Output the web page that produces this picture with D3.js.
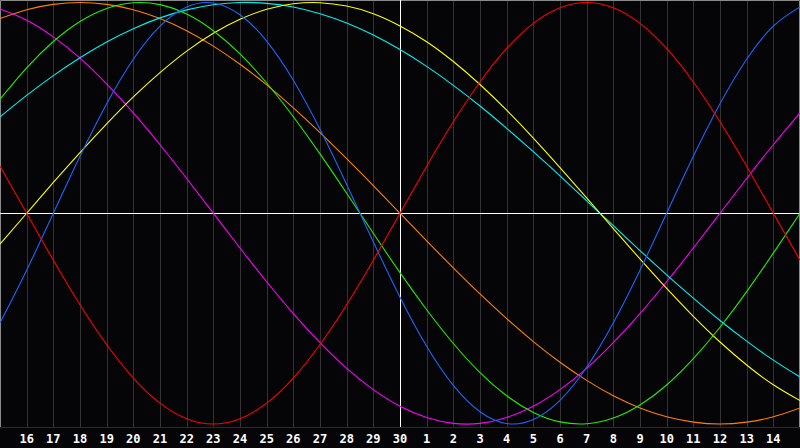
<!DOCTYPE html>
<html>
<head>
<meta charset="utf-8">
<script src="https://cdn.jsdelivr.net/npm/d3@7"></script>
<style>
  html, body { margin: 0; padding: 0; background: #000; }
  svg { display: block; }
</style>
</head>
<body>
<div id="chart"></div>
<script>
// day labels, one per column (first and last sit on the frame edges)
var days = [15, 16, 17, 18, 19, 20, 21, 22, 23, 24, 25, 26, 27, 28, 29, 30,
            1, 2, 3, 4, 5, 6, 7, 8, 9, 10, 11, 12, 13, 14, 15];
var todayIndex = 15; // the "30" column

// values, -1..1, one per day
var physical = [-0.520, -0.270, 0, 0.270, 0.520, 0.731, 0.888, 0.979, 0.998, 0.942, 0.817, 0.631, 0.398, 0.136, -0.136,
                -0.398, -0.631, -0.817, -0.942, -0.998, -0.979, -0.888, -0.731, -0.520, -0.270, 0, 0.270, 0.520, 0.731, 0.888, 0.979];
var emotional = [0.223, 0, -0.223, -0.434, -0.623, -0.782, -0.901, -0.975, -1.000, -0.975, -0.901, -0.782, -0.623, -0.434, -0.223,
                 0, 0.223, 0.434, 0.623, 0.782, 0.901, 0.975, 1.000, 0.975, 0.901, 0.782, 0.623, 0.434, 0.223, 0, -0.223];
var intellectual = [0.541, 0.690, 0.815, 0.910, 0.972, 0.999, 0.990, 0.945, 0.866, 0.756, 0.618, 0.458, 0.282, 0.095, -0.095,
                    -0.282, -0.458, -0.618, -0.756, -0.866, -0.945, -0.990, -0.999, -0.972, -0.910, -0.815, -0.690, -0.541, -0.372, -0.189, 0];
var intuitive = [0.969, 0.916, 0.837, 0.736, 0.614, 0.476, 0.325, 0.165, 0, -0.165, -0.325, -0.476, -0.614, -0.736, -0.837,
                 -0.916, -0.969, -0.997, -0.997, -0.969, -0.916, -0.837, -0.736, -0.614, -0.476, -0.325, -0.165, 0, 0.165, 0.325, 0.476];
var aesthetic = [-0.146, 0, 0.146, 0.288, 0.424, 0.552, 0.667, 0.769, 0.854, 0.920, 0.968, 0.994, 0.999, 0.983, 0.947,
                 0.889, 0.814, 0.720, 0.611, 0.489, 0.357, 0.217, 0.073, -0.073, -0.217, -0.357, -0.489, -0.611, -0.720, -0.814, -0.889];
var awareness = [0.924, 0.966, 0.991, 1.000, 0.991, 0.966, 0.924, 0.866, 0.793, 0.707, 0.609, 0.500, 0.383, 0.259, 0.131,
                 0, -0.131, -0.259, -0.383, -0.500, -0.609, -0.707, -0.793, -0.866, -0.924, -0.966, -0.991, -1.000, -0.991, -0.966, -0.924];
var spiritual = [0.457, 0.559, 0.653, 0.738, 0.813, 0.876, 0.927, 0.965, 0.989, 1.000, 0.996, 0.979, 0.947, 0.903, 0.846,
                 0.777, 0.697, 0.607, 0.509, 0.403, 0.292, 0.177, 0.059, -0.059, -0.177, -0.292, -0.403, -0.509, -0.607, -0.697, -0.777];

var series = [
  {name: "awareness",    values: awareness,    color: "#ff8000"},
  {name: "intuitive",    values: intuitive,    color: "#ff00ff"},
  {name: "spiritual",    values: spiritual,    color: "#00f0f0"},
  {name: "aesthetic",    values: aesthetic,    color: "#ffff00"},
  {name: "intellectual", values: intellectual, color: "#22ee00"},
  {name: "physical",     values: physical,     color: "#1a66ff"},
  {name: "emotional",    values: emotional,    color: "#ff0000"}
];

var width = 800, height = 448;
var plotBottom = 427;

var svg = d3.select("#chart").append("svg")
    .attr("width", width)
    .attr("height", height);

svg.append("rect")
    .attr("width", width)
    .attr("height", height)
    .attr("fill", "#050508");

var x = d3.scaleLinear().domain([0, days.length - 1]).range([0, width]);
var y = d3.scaleLinear().domain([-1, 1]).range([424, 2.5]);

var idx = d3.range(days.length);

// day grid
svg.append("g")
  .selectAll("line")
  .data(idx.slice(1, -1))
  .join("line")
    .attr("x1", function(d) { return Math.round(x(d)) + 0.5; })
    .attr("x2", function(d) { return Math.round(x(d)) + 0.5; })
    .attr("y1", 0)
    .attr("y2", plotBottom)
    .attr("stroke", "#333336")
    .attr("stroke-width", 1);

// frame
svg.append("path")
    .attr("d", "M0.5," + plotBottom + "V0.5H799.5V" + plotBottom)
    .attr("fill", "none")
    .attr("stroke", "#8a8a8a");
svg.append("line")
    .attr("x1", 0).attr("x2", width)
    .attr("y1", plotBottom + 0.5).attr("y2", plotBottom + 0.5)
    .attr("stroke", "#2a2a2e");

// zero line + today line
svg.append("line")
    .attr("x1", 0).attr("x2", width)
    .attr("y1", Math.round(y(0)) + 0.5).attr("y2", Math.round(y(0)) + 0.5)
    .attr("stroke", "#ffffff");
svg.append("line")
    .attr("x1", Math.round(x(todayIndex)) + 0.5).attr("x2", Math.round(x(todayIndex)) + 0.5)
    .attr("y1", 0).attr("y2", plotBottom)
    .attr("stroke", "#ffffff");

var line = d3.line()
    .x(function(d, i) { return x(i); })
    .y(function(d) { return y(d); })
    .curve(d3.curveNatural);

svg.append("g")
  .selectAll("path")
  .data(series)
  .join("path")
    .attr("d", function(s) { return line(s.values); })
    .attr("fill", "none")
    .attr("stroke", function(s) { return s.color; })
    .attr("stroke-width", 1.1);

// day labels
svg.append("g")
  .selectAll("text")
  .data(idx.slice(1, -1))
  .join("text")
    .attr("x", function(d) { return x(d); })
    .attr("y", 443)
    .attr("text-anchor", "middle")
    .attr("fill", "#ffffff")
    .attr("font-family", "DejaVu Sans Mono")
    .attr("font-weight", "bold")
    .attr("font-size", "12px")
    .text(function(d) { return days[d]; });
</script>
</body>
</html>
